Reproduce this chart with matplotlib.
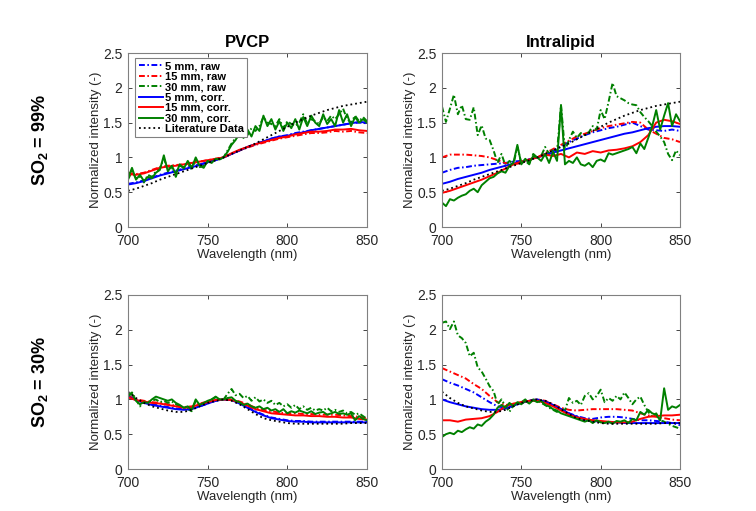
import numpy as np
import matplotlib.pyplot as plt

plt.rcParams['font.family'] = ['Liberation Sans', 'DejaVu Sans']
plt.rcParams['mathtext.fontset'] = 'custom'
plt.rcParams['mathtext.rm'] = 'Liberation Sans'
plt.rcParams['mathtext.bf'] = 'Liberation Sans:bold'

# wavelength grids (nm)
wl = np.arange(700, 851, 5)        # smooth curves
wl_n = np.arange(700, 850.1, 2.5)  # noisy 30 mm curves

# literature data
lit_99 = [0.52, 0.55, 0.59, 0.63, 0.68, 0.72, 0.76, 0.80, 0.84, 0.88, 0.92, 0.96, 1.00, 1.05, 1.10, 1.15,
          1.20, 1.26, 1.32, 1.38, 1.44, 1.50, 1.55, 1.60, 1.64, 1.68, 1.71, 1.74, 1.76, 1.78, 1.80]
lit_30 = [1.11, 1.02, 0.95, 0.90, 0.87, 0.84, 0.82, 0.82, 0.85, 0.90, 0.95, 0.98, 1.00, 0.98, 0.93, 0.86,
          0.79, 0.73, 0.70, 0.68, 0.66, 0.65, 0.65, 0.65, 0.65, 0.65, 0.65, 0.65, 0.66, 0.66, 0.66]

# PVCP, SO2 = 99%
pv99_b_raw = [0.62, 0.64, 0.67, 0.71, 0.75, 0.78, 0.81, 0.84, 0.87, 0.90, 0.93, 0.96, 1.00, 1.05, 1.10, 1.15,
              1.19, 1.23, 1.27, 1.30, 1.32, 1.35, 1.37, 1.39, 1.41, 1.43, 1.45, 1.47, 1.49, 1.50, 1.49]
pv99_r_raw = [0.78, 0.76, 0.78, 0.82, 0.86, 0.88, 0.89, 0.90, 0.92, 0.94, 0.96, 0.98, 1.00, 1.05, 1.10, 1.14,
              1.18, 1.21, 1.24, 1.27, 1.29, 1.31, 1.33, 1.35, 1.35, 1.36, 1.38, 1.37, 1.38, 1.36, 1.35]
pv99_g_raw = [0.68, 0.80, 0.70, 0.72, 0.64, 0.75, 0.72, 0.80, 0.85, 0.98, 0.84, 0.86, 0.72, 0.88, 0.86, 0.92,
              0.82, 0.96, 0.86, 0.88, 0.93, 0.95, 0.98, 0.99, 1.00, 1.10, 1.20, 1.28, 1.30, 1.36, 1.32, 1.42,
              1.38, 1.45, 1.58, 1.50, 1.48, 1.45, 1.55, 1.42, 1.52, 1.48, 1.45, 1.50, 1.62, 1.48, 1.55, 1.52,
              1.48, 1.58, 1.52, 1.60, 1.55, 1.62, 1.70, 1.55, 1.50, 1.60, 1.52, 1.58, 1.52]
pv99_b_cor = [0.61, 0.63, 0.66, 0.70, 0.74, 0.77, 0.80, 0.83, 0.86, 0.89, 0.93, 0.96, 1.00, 1.05, 1.10, 1.15,
              1.19, 1.23, 1.27, 1.30, 1.31, 1.34, 1.36, 1.39, 1.41, 1.43, 1.45, 1.47, 1.49, 1.51, 1.50]
pv99_r_cor = [0.76, 0.75, 0.77, 0.81, 0.85, 0.87, 0.88, 0.90, 0.92, 0.94, 0.96, 0.98, 1.00, 1.06, 1.11, 1.15,
              1.19, 1.22, 1.25, 1.28, 1.30, 1.33, 1.35, 1.37, 1.37, 1.38, 1.40, 1.40, 1.41, 1.39, 1.38]
pv99_g_cor = [0.70, 0.85, 0.68, 0.75, 0.66, 0.72, 0.70, 0.78, 0.82, 1.03, 0.80, 0.88, 0.76, 0.90, 0.84, 0.95,
              0.85, 1.00, 0.88, 0.85, 0.95, 0.92, 0.98, 0.97, 1.00, 1.08, 1.18, 1.25, 1.35, 1.28, 1.40, 1.30,
              1.45, 1.38, 1.60, 1.45, 1.55, 1.40, 1.52, 1.38, 1.50, 1.42, 1.55, 1.40, 1.58, 1.45, 1.60, 1.50,
              1.45, 1.62, 1.48, 1.55, 1.45, 1.68, 1.50, 1.62, 1.45, 1.58, 1.50, 1.55, 1.50]

# Intralipid, SO2 = 99%
il99_b_raw = [0.78, 0.82, 0.85, 0.86, 0.88, 0.89, 0.90, 0.91, 0.92, 0.94, 0.95, 0.97, 1.00, 1.05, 1.10, 1.16,
              1.22, 1.27, 1.32, 1.36, 1.39, 1.42, 1.44, 1.47, 1.50, 1.45, 1.40, 1.39, 1.38, 1.40, 1.38]
il99_r_raw = [1.00, 1.04, 1.04, 1.04, 1.03, 1.02, 1.00, 0.96, 0.92, 0.90, 0.92, 0.96, 1.00, 1.06, 1.12, 1.18,
              1.24, 1.30, 1.34, 1.38, 1.42, 1.45, 1.47, 1.49, 1.51, 1.50, 1.40, 1.34, 1.28, 1.26, 1.22]
il99_g_raw = [1.73, 1.51, 1.70, 1.90, 1.62, 1.75, 1.55, 1.54, 1.72, 1.32, 1.46, 1.27, 1.25, 1.10, 0.92, 1.05,
              0.88, 0.95, 0.90, 1.15, 0.92, 0.95, 0.90, 1.05, 1.00, 1.02, 1.15, 1.05, 1.12, 1.08, 1.75, 1.10,
              1.25, 1.37, 1.28, 1.35, 1.32, 1.36, 1.45, 1.40, 1.68, 1.55, 1.80, 2.07, 1.88, 1.85, 1.82, 1.78,
              1.76, 1.75, 1.65, 1.58, 1.52, 1.45, 1.37, 1.30, 1.22, 1.05, 0.96, 1.10, 1.03]
il99_b_cor = [0.62, 0.65, 0.69, 0.72, 0.75, 0.78, 0.82, 0.85, 0.88, 0.91, 0.94, 0.97, 1.00, 1.03, 1.07, 1.10,
              1.13, 1.16, 1.19, 1.22, 1.25, 1.28, 1.31, 1.34, 1.36, 1.39, 1.42, 1.44, 1.45, 1.45, 1.44]
il99_r_cor = [0.49, 0.52, 0.56, 0.60, 0.64, 0.68, 0.73, 0.78, 0.84, 0.90, 0.94, 0.97, 1.00, 1.04, 1.02, 1.05,
              1.00, 1.07, 1.05, 1.09, 1.07, 1.10, 1.11, 1.13, 1.16, 1.22, 1.32, 1.50, 1.54, 1.52, 1.48]
il99_g_cor = [0.35, 0.30, 0.40, 0.38, 0.42, 0.45, 0.47, 0.52, 0.55, 0.50, 0.60, 0.65, 0.70, 0.72, 0.77, 0.80,
              0.78, 0.88, 0.92, 1.18, 0.90, 0.98, 0.92, 1.02, 1.00, 0.95, 1.05, 0.92, 1.08, 0.95, 1.75, 0.90,
              0.95, 0.92, 1.00, 0.90, 0.88, 0.92, 0.86, 0.95, 0.97, 0.94, 1.06, 1.04, 1.06, 1.08, 1.10, 1.12,
              1.15, 1.06, 1.20, 1.12, 1.28, 1.45, 1.68, 1.40, 1.60, 1.78, 1.45, 1.62, 1.52]

# PVCP, SO2 = 30%
pv30_b_raw = [1.05, 1.00, 0.96, 0.93, 0.91, 0.89, 0.87, 0.86, 0.87, 0.90, 0.94, 0.98, 1.00, 0.99, 0.95, 0.89,
              0.83, 0.78, 0.74, 0.72, 0.70, 0.69, 0.69, 0.68, 0.68, 0.68, 0.68, 0.68, 0.68, 0.68, 0.68]
pv30_r_raw = [1.05, 1.00, 0.98, 0.96, 0.95, 0.93, 0.91, 0.89, 0.90, 0.94, 0.97, 0.99, 1.00, 1.00, 0.97, 0.93,
              0.88, 0.85, 0.83, 0.81, 0.80, 0.80, 0.79, 0.79, 0.78, 0.78, 0.78, 0.77, 0.76, 0.75, 0.73]
pv30_g_raw = [1.06, 1.10, 1.00, 0.90, 0.97, 0.95, 0.98, 1.00, 0.96, 0.98, 0.95, 0.97, 0.93, 0.90, 0.88, 0.86,
              0.83, 0.98, 0.90, 0.93, 0.96, 1.00, 1.03, 1.00, 1.00, 1.08, 1.15, 1.06, 1.08, 1.02, 1.05, 0.98,
              1.03, 0.97, 1.00, 0.95, 0.98, 0.92, 0.95, 0.90, 0.93, 0.88, 0.92, 0.86, 0.90, 0.85, 0.88, 0.84,
              0.86, 0.84, 0.88, 0.83, 0.85, 0.82, 0.84, 0.80, 0.82, 0.78, 0.80, 0.76, 0.72]
pv30_b_cor = [1.04, 0.99, 0.95, 0.92, 0.90, 0.88, 0.86, 0.85, 0.86, 0.90, 0.94, 0.98, 1.00, 0.99, 0.94, 0.88,
              0.82, 0.77, 0.73, 0.71, 0.69, 0.68, 0.68, 0.67, 0.67, 0.67, 0.67, 0.67, 0.67, 0.67, 0.67]
pv30_r_cor = [1.03, 0.99, 0.97, 0.95, 0.94, 0.92, 0.90, 0.88, 0.89, 0.93, 0.96, 0.99, 1.00, 0.99, 0.96, 0.91,
              0.86, 0.83, 0.80, 0.79, 0.78, 0.77, 0.77, 0.76, 0.76, 0.75, 0.75, 0.74, 0.74, 0.72, 0.71]
pv30_g_cor = [1.05, 1.08, 0.98, 0.93, 0.96, 0.95, 1.00, 1.04, 1.02, 1.00, 0.98, 1.00, 0.95, 0.92, 0.88, 0.90,
              0.85, 1.00, 0.92, 0.95, 0.98, 1.00, 1.04, 1.00, 1.00, 1.02, 1.03, 0.98, 0.96, 0.92, 0.94, 0.90,
              0.88, 0.90, 0.86, 0.88, 0.84, 0.86, 0.82, 0.86, 0.80, 0.83, 0.81, 0.84, 0.82, 0.80, 0.83, 0.79,
              0.81, 0.82, 0.78, 0.80, 0.82, 0.79, 0.80, 0.78, 0.80, 0.70, 0.76, 0.72, 0.70]

# Intralipid, SO2 = 30%
il30_b_raw = [1.29, 1.24, 1.20, 1.15, 1.10, 1.03, 0.96, 0.90, 0.88, 0.91, 0.95, 0.98, 1.00, 0.97, 0.92, 0.86,
              0.80, 0.76, 0.73, 0.72, 0.74, 0.75, 0.75, 0.74, 0.72, 0.70, 0.70, 0.69, 0.68, 0.66, 0.63]
il30_r_raw = [1.45, 1.40, 1.35, 1.30, 1.22, 1.15, 1.05, 0.96, 0.92, 0.93, 0.96, 0.98, 1.00, 0.98, 0.93, 0.88,
              0.85, 0.84, 0.85, 0.86, 0.86, 0.86, 0.86, 0.85, 0.84, 0.80, 0.77, 0.75, 0.73, 0.71, 0.70]
il30_g_raw = [2.10, 2.12, 2.01, 2.12, 1.92, 1.88, 1.81, 1.62, 1.67, 1.46, 1.40, 1.30, 1.19, 1.12, 0.93, 1.00,
              0.90, 0.82, 0.92, 0.95, 0.96, 1.00, 0.95, 1.00, 0.98, 0.95, 0.92, 0.88, 0.85, 0.82, 0.88, 0.84,
              1.02, 0.95, 0.98, 0.92, 1.05, 1.09, 1.00, 1.05, 1.14, 0.96, 1.02, 0.98, 1.05, 1.00, 1.10, 1.02,
              0.93, 1.00, 1.04, 0.92, 0.82, 0.75, 0.80, 0.70, 0.68, 0.65, 0.62, 0.60, 0.58]
il30_b_cor = [1.00, 0.96, 0.93, 0.90, 0.88, 0.86, 0.85, 0.85, 0.87, 0.91, 0.95, 0.98, 0.99, 0.97, 0.92, 0.86,
              0.80, 0.75, 0.71, 0.69, 0.68, 0.67, 0.67, 0.66, 0.66, 0.66, 0.66, 0.66, 0.66, 0.66, 0.66]
il30_r_cor = [0.70, 0.70, 0.68, 0.71, 0.72, 0.73, 0.76, 0.82, 0.90, 0.94, 0.96, 0.98, 0.98, 0.95, 0.90, 0.84,
              0.78, 0.74, 0.72, 0.70, 0.69, 0.68, 0.67, 0.67, 0.68, 0.72, 0.75, 0.76, 0.77, 0.77, 0.78]
il30_g_cor = [0.46, 0.50, 0.52, 0.50, 0.55, 0.53, 0.57, 0.60, 0.58, 0.64, 0.62, 0.68, 0.72, 0.78, 0.88, 0.92,
              0.88, 0.95, 0.90, 0.96, 0.93, 0.98, 0.94, 0.99, 0.96, 0.98, 0.92, 0.90, 0.86, 0.84, 0.80, 0.78,
              0.76, 0.74, 0.72, 0.70, 0.68, 0.70, 0.66, 0.70, 0.67, 0.66, 0.68, 0.65, 0.69, 0.68, 0.70, 0.66,
              0.72, 0.70, 0.82, 0.78, 0.85, 0.80, 0.78, 0.70, 1.16, 0.85, 0.90, 0.88, 0.92]

labels = ['5 mm, raw', '15 mm, raw', '30 mm, raw', '5 mm, corr.', '15 mm, corr.', '30 mm, corr.',
          'Literature Data']
blue, red, green = '#0000ff', '#ff0000', '#008000'

panels = [
    (pv99_b_raw, pv99_r_raw, pv99_g_raw, pv99_b_cor, pv99_r_cor, pv99_g_cor, lit_99),
    (il99_b_raw, il99_r_raw, il99_g_raw, il99_b_cor, il99_r_cor, il99_g_cor, lit_99),
    (pv30_b_raw, pv30_r_raw, pv30_g_raw, pv30_b_cor, pv30_r_cor, pv30_g_cor, lit_30),
    (il30_b_raw, il30_r_raw, il30_g_raw, il30_b_cor, il30_r_cor, il30_g_cor, lit_30),
]

fig = plt.figure(figsize=(7.56, 5.11), dpi=100)
W, H = 756, 511
boxes = [(128, 53, 367, 227), (442, 53, 680, 227), (128, 295, 367, 469), (442, 295, 680, 469)]
axes = []
for (x0, y0, x1, y1) in boxes:
    axes.append(fig.add_axes([x0 / W, 1 - y1 / H, (x1 - x0) / W, (y1 - y0) / H]))

lw = 1.4
dd = (3, 1.3, 0.8, 1.3)  # short matlab-like dash-dot
for ax, d in zip(axes, panels):
    b_raw, r_raw, g_raw, b_cor, r_cor, g_cor, lit = d
    ax.plot(wl, b_raw, '-.', dashes=dd, color=blue, lw=lw, label=labels[0])
    ax.plot(wl, r_raw, '-.', dashes=dd, color=red, lw=lw, label=labels[1])
    ax.plot(wl_n, g_raw, '-.', dashes=dd, color=green, lw=lw, label=labels[2])
    ax.plot(wl, b_cor, '-', color=blue, lw=lw, label=labels[3])
    ax.plot(wl, r_cor, '-', color=red, lw=lw, label=labels[4])
    ax.plot(wl_n, g_cor, '-', color=green, lw=lw, label=labels[5])
    ax.plot(wl, lit, ':', color='black', lw=1.3, label=labels[6])
    ax.set_xlim(700, 850)
    ax.set_ylim(0, 2.5)
    ax.set_xticks([700, 750, 800, 850])
    ax.set_yticks([0, 0.5, 1, 1.5, 2, 2.5])
    ax.set_yticklabels(['0', '0.5', '1', '1.5', '2', '2.5'])
    ax.tick_params(direction='in', top=True, right=True, labelsize=10, colors='#262626',
                   length=3, width=0.6)
    ax.tick_params(axis='x', pad=5)
    ax.tick_params(axis='y', pad=4)
    for s in ax.spines.values():
        s.set_color('#808080')
        s.set_linewidth(0.8)
    ax.set_xlabel('Wavelength (nm)', fontsize=9.5, color='#262626', labelpad=1)
    ax.set_ylabel('Normalized intensity (-)', fontsize=9.5, color='#262626', labelpad=1)

axes[0].set_title('PVCP', fontsize=12, fontweight='bold', pad=4)
axes[1].set_title('Intralipid', fontsize=12, fontweight='bold', pad=4)

leg = axes[0].legend(loc='upper left', bbox_to_anchor=(0.03, 0.972),
                     prop={'weight': 'bold', 'size': 8}, fancybox=False, framealpha=1,
                     edgecolor='#808080', handlelength=2.2, handletextpad=0.15,
                     labelspacing=0.04, borderpad=0.3, borderaxespad=0)
leg.get_frame().set_linewidth(0.8)

fig.text(40 / W, 1 - 140 / H, r'SO$_\mathbf{2}$ = 99%', rotation=90, fontsize=13,
         fontweight='bold', ha='center', va='center')
fig.text(40 / W, 1 - 382 / H, r'SO$_\mathbf{2}$ = 30%', rotation=90, fontsize=13,
         fontweight='bold', ha='center', va='center')

fig.savefig('out.png', dpi=100)
